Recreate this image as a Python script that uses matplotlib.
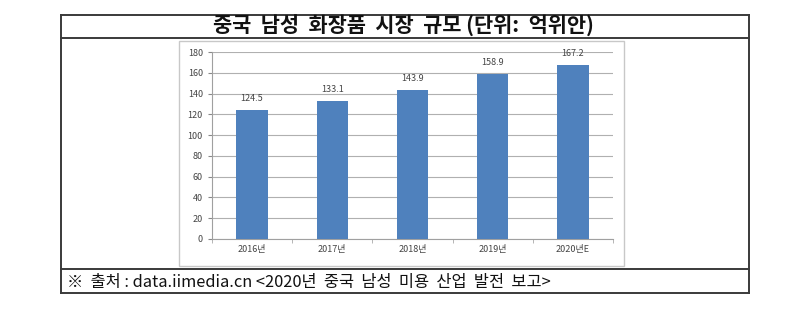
import matplotlib
matplotlib.use("Agg")
import matplotlib.pyplot as plt
from matplotlib.patches import Rectangle
from matplotlib.lines import Line2D

plt.rcParams['font.family'] = ['Noto Sans CJK KR', 'DejaVu Sans']

categories = ["2016년", "2017년", "2018년", "2019년", "2020년E"]
values = [124.5, 133.1, 143.9, 158.9, 167.2]
value_labels = ["124.5", "133.1", "143.9", "158.9", "167.2"]
yticks = [0, 20, 40, 60, 80, 100, 120, 140, 160, 180]
title = "중국  남성  화장품  시장  규모 (단위:  억위안)"
footer = "※  출처 : data.iimedia.cn <2020년  중국  남성  미용  산업  발전  보고>"

W, H = 800, 311
fig = plt.figure(figsize=(W / 100, H / 100), dpi=100)

def fx(x):
    return x / W

def fy(y):
    return 1 - y / H

# outer table lines
lc = "#3a3a3a"
lw = 1.4
for (x0, y0, x1, y1) in [(61, 15, 749, 15), (61, 38, 749, 38), (61, 269, 749, 269),
                         (61, 293, 749, 293), (61, 15, 61, 293), (749, 15, 749, 293)]:
    fig.add_artist(Line2D([fx(x0), fx(x1)], [fy(y0), fy(y1)], color=lc, lw=lw,
                          transform=fig.transFigure))

# chart panel box
fig.add_artist(Rectangle((fx(179), fy(266)), fx(624) - fx(179), fy(41) - fy(266),
                         transform=fig.transFigure, fill=False, edgecolor="#c8c8c8", lw=1.0))

fig.text(fx(403), fy(26), title, ha="center", va="center", fontsize=15,
         fontweight="bold", color="#111111")
fig.text(fx(67), fy(282), footer, ha="left", va="center", fontsize=11.8,
         color="#111111")

ax = fig.add_axes([fx(212), fy(239), fx(613) - fx(212), fy(52) - fy(239)])
x = list(range(len(categories)))
ax.bar(x, values, width=0.39, color="#4f81bd", zorder=3)
ax.set_xlim(-0.5, len(categories) - 0.5)
ax.set_ylim(0, 180)
ax.set_yticks(yticks)
ax.set_xticks(x)
ax.set_xticklabels(categories)
ax.tick_params(axis="both", labelsize=6.5, colors="#888888", labelcolor="#444444", length=3)
ax.tick_params(axis="x", length=0, pad=4)
ax.set_xticks([i + 0.5 for i in range(-1, len(categories))], minor=True)
ax.tick_params(axis="x", which="minor", length=3, color="#aaaaaa")
ax.grid(axis="y", color="#b0b0b0", lw=0.8, zorder=0)
for s in ["top", "right"]:
    ax.spines[s].set_visible(False)
for s in ["left", "bottom"]:
    ax.spines[s].set_color("#a0a0a0")
    ax.spines[s].set_linewidth(0.8)
for xi, v, lab in zip(x, values, value_labels):
    ax.annotate(lab, (xi, v), xytext=(0, 5), textcoords="offset points",
                ha="center", va="bottom", fontsize=6.5, color="#444444")

fig.savefig("out.png", dpi=100)
